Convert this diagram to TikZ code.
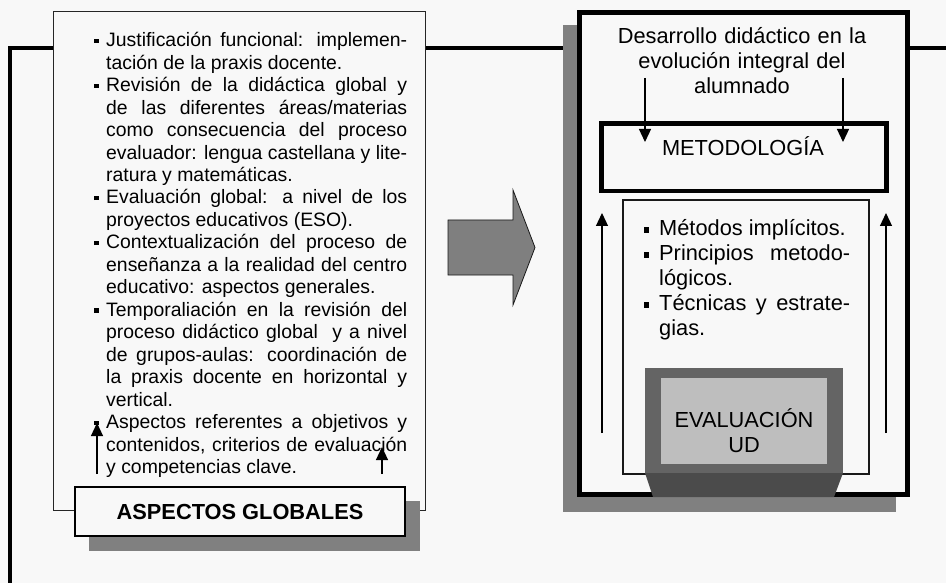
\documentclass[tikz,border=0pt]{standalone}
\usepackage{fontspec}
\setmainfont{Liberation Sans}
\usetikzlibrary{arrows.meta}
\definecolor{bg}{HTML}{F8F8F8}
\definecolor{shadowgray}{HTML}{808080}
\definecolor{evalframe}{HTML}{646464}
\definecolor{evalface}{HTML}{BEBEBE}
\definecolor{evalbase}{HTML}{4B4B4B}
\definecolor{bigarrow}{HTML}{7F7F7F}
\newcommand\nohy{\hyphenpenalty10000 \tolerance10000 \relax}
\newcommand\lbul{\makebox[12pt][l]{\rule[3.8pt]{4.3pt}{4.3pt}}}
\newcommand\rbul{\makebox[16pt][l]{\hspace{0.3pt}\rule[2.8pt]{5.5pt}{5.5pt}}}
\newcommand\mylitem[1]{\par\noindent\hangindent12pt\hangafter1 \lbul #1\par}
\newcommand\myritem[1]{\par\noindent\hangindent16pt\hangafter1 \rbul #1\par}
\tikzset{
  boxthin/.style={draw=black!85, line width=1pt, fill=bg, inner sep=0pt},
  boxthick/.style={draw=black, fill=bg, inner sep=0pt},
  shadowbox/.style={fill=shadowgray, draw=none},
  listtext/.style={inner sep=0pt, align=justify, anchor=north west},
  smallfont/.style={font=\fontsize{19.4}{22.47}\selectfont\nohy},
  bigfont/.style={font=\fontsize{21.8}{25}\selectfont\nohy},
  arr/.style={line width=1.2pt, -{Triangle[width=12pt,length=13pt]}},
  frameline/.style={line width=4.5pt, line join=miter}
}
\begin{document}
\begin{tikzpicture}[x=1pt,y=-1pt]
\fill[bg] (0,0) rectangle (946,583);
\useasboundingbox (0,0) rectangle (946,583);
% outer frame
\coordinate (fbl) at (10,583);
\coordinate (ftl) at (10,48);
\coordinate (ftr) at (946,48);
\draw[frameline] (fbl) -- (ftl) -- (ftr);
% left box
\node[boxthin, minimum width=372.5pt, minimum height=498.5pt] (leftbox) at (239.25,261.25) {};
\fill[shadowgray] (89,501) rectangle (420,551);
\node[boxthick, line width=1.5pt, minimum width=330pt, minimum height=49pt, font=\fontsize{21.8}{25}\selectfont\bfseries] (aspectos) at (240,511.5) {ASPECTOS GLOBALES};
\node[listtext, smallfont, text width=313pt] (ltext) at (94,24) {%
\mylitem{\rule{0pt}{16pt}Justificación funcional: implemen-\linebreak tación de la praxis docente.}%
\mylitem{Revisión de la didáctica global y\linebreak de las diferentes áreas/materias\linebreak como consecuencia del proceso\linebreak evaluador: lengua castellana y lite-\linebreak ratura y matemáticas.}%
\mylitem{Evaluación global: a nivel de los\linebreak proyectos educativos (ESO).}%
\mylitem{Contextualización del proceso de\linebreak enseñanza a la realidad del centro\linebreak educativo: aspectos generales.}%
\mylitem{Temporaliación en la revisión del\linebreak proceso didáctico global\ \ y a nivel\linebreak de grupos-aulas: coordinación de\linebreak la praxis docente en horizontal y\linebreak vertical.}%
\mylitem{Aspectos referentes a objetivos y\linebreak contenidos, criterios de evaluación\linebreak y competencias clave.}};
\coordinate (la1) at (97,474);
\coordinate (la2) at (97,423);
\coordinate (ra1) at (382,474);
\coordinate (ra2) at (382,447);
\draw[arr] (la1) -- (la2);
\draw[arr] (ra1) -- (ra2);
% big arrow
\draw[fill=bigarrow, draw=black!90, line width=0.8pt, line join=miter]
  (448,220) -- (513,220) -- (513,190) -- (535,247.5) -- (513,305) -- (513,275) -- (448,275) -- cycle;
% right box
\fill[shadowgray] (563,25) rectangle (896,512);
\node[boxthick, line width=5pt, minimum width=328pt, minimum height=481.5pt] (rightbox) at (743.5,253.25) {};
\node[bigfont, inner sep=0pt, anchor=north, text width=300pt, align=center] (title) at (742,25)
  {\rule{0pt}{18pt}Desarrollo didáctico en la\\evolución integral del\\alumnado};
\node[boxthick, line width=4.5pt, minimum width=285pt, minimum height=67.5pt] (metobox) at (744,157.25) {};
\node[bigfont, inner sep=0pt, anchor=base] (metotext) at (743,156) {METODOLOGÍA};
\node[boxthin, line width=1.2pt, draw=black!90, minimum width=246pt, minimum height=274pt] (innerbox) at (746,337) {};
\node[listtext, bigfont, text width=207pt] (rtext) at (643,210.5) {%
\myritem{\rule{0pt}{18pt}Métodos implícitos.}%
\myritem{Principios metodo-\linebreak lógicos.}%
\myritem{Técnicas y estrate-\linebreak gias.}};
\coordinate (da1) at (645,78);
\coordinate (da2) at (645,142);
\coordinate (db1) at (843,78);
\coordinate (db2) at (843,142);
\draw[arr] (da1) -- (da2);
\draw[arr] (db1) -- (db2);
\coordinate (ua1) at (602,433);
\coordinate (ua2) at (602,213);
\coordinate (ub1) at (886,433);
\coordinate (ub2) at (886,213);
\draw[arr] (ua1) -- (ua2);
\draw[arr] (ub1) -- (ub2);
% evaluation block
\fill[evalframe] (645,368) rectangle (843,473);
\fill[evalbase] (645,473) -- (843,473) -- (834,497) -- (653,497) -- cycle;
\node[fill=evalface, minimum width=166pt, minimum height=86pt, inner sep=0pt] (evalface) at (744,421) {};
\node[bigfont, inner sep=0pt, anchor=north, text width=170pt, align=center] (evaltext) at (744,408)
  {\rule{0pt}{18pt}EVALUACIÓN\\UD};
\end{tikzpicture}
\end{document}
